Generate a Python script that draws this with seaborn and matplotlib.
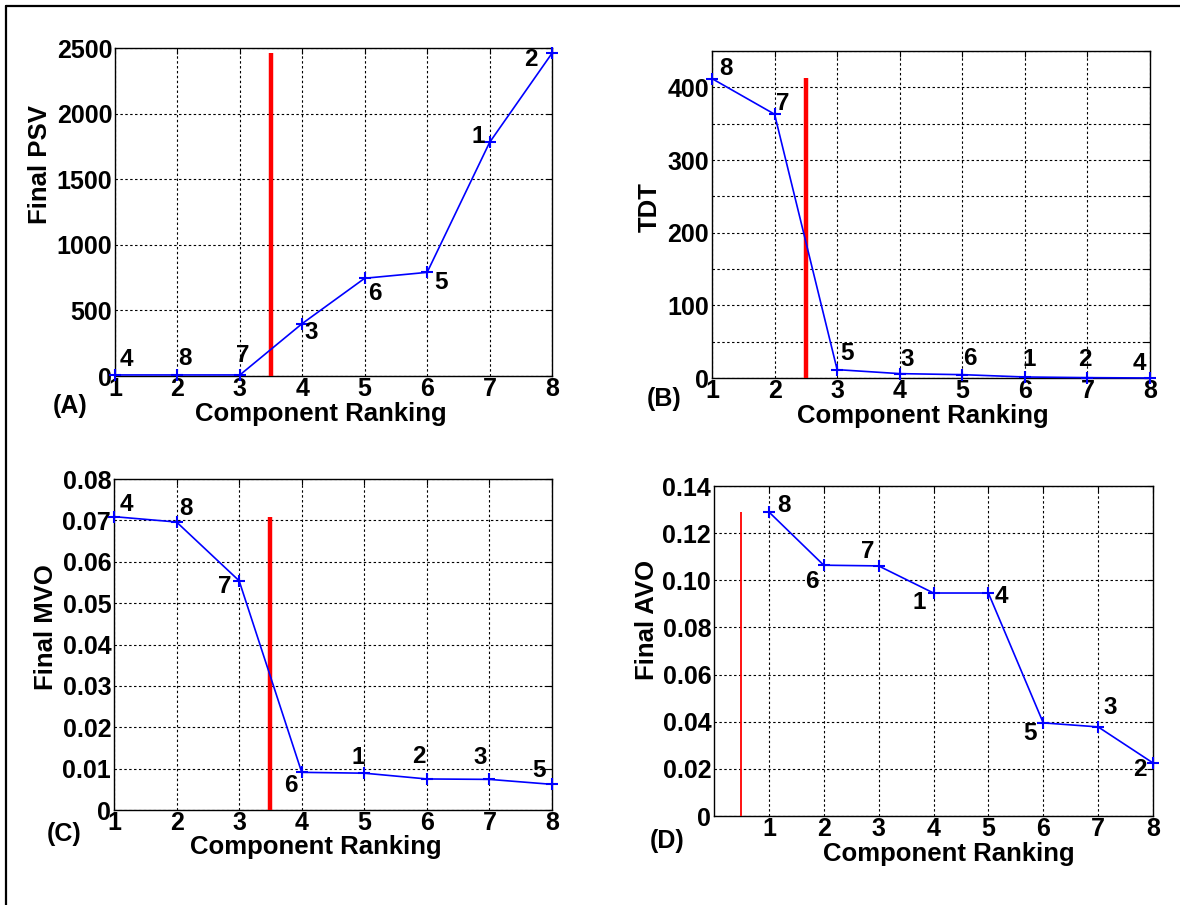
import matplotlib
matplotlib.use("Agg")
import matplotlib.pyplot as plt
from matplotlib.lines import Line2D
import seaborn as sns
import pandas as pd

# ---- data -------------------------------------------------------------
ranking = [1, 2, 3, 4, 5, 6, 7, 8]

psv_components = ["4", "8", "7", "3", "6", "5", "1", "2"]
psv_values = [8, 8, 8, 400, 745, 790, 1780, 2460]
psv_cut = 3.5
psv_cut_top = 2460

tdt_components = ["8", "7", "5", "3", "6", "1", "2", "4"]
tdt_values = [412, 363, 11.5, 6, 4.6, 1.4, 0.5, 0.0]
tdt_cut = 2.5
tdt_cut_top = 413

mvo_components = ["4", "8", "7", "6", "1", "2", "3", "5"]
mvo_values = [0.0709, 0.0696, 0.0554, 0.0091, 0.0089, 0.0075, 0.0074, 0.0062]
mvo_cut = 3.5
mvo_cut_top = 0.0709

avo_components = ["8", "6", "7", "1", "4", "5", "3", "2"]
avo_values = [0.129, 0.1064, 0.1061, 0.0946, 0.0946, 0.0395, 0.0378, 0.0225]
avo_cut = 0.5
avo_cut_top = 0.129

psv_yticks = [0, 500, 1000, 1500, 2000, 2500]
psv_yticklabels = ["0", "500", "1000", "1500", "2000", "2500"]
tdt_yticks = [0, 50, 100, 150, 200, 250, 300, 350, 400, 450]
tdt_yticklabels = ["0", "", "100", "", "200", "", "300", "", "400", ""]
mvo_yticks = [0, 0.01, 0.02, 0.03, 0.04, 0.05, 0.06, 0.07, 0.08]
mvo_yticklabels = ["0", "0.01", "0.02", "0.03", "0.04", "0.05", "0.06", "0.07", "0.08"]
avo_yticks = [0, 0.02, 0.04, 0.06, 0.08, 0.10, 0.12, 0.14]
avo_yticklabels = ["0", "0.02", "0.04", "0.06", "0.08", "0.10", "0.12", "0.14"]

# ---- style --------------------------------------------------------------
sns.set_style("white")
plt.rcParams["font.family"] = ["Liberation Sans", "DejaVu Sans"]
plt.rcParams["font.weight"] = "bold"
plt.rcParams["text.color"] = "black"
plt.rcParams["axes.labelcolor"] = "black"
plt.rcParams["xtick.color"] = "black"
plt.rcParams["ytick.color"] = "black"

W, H = 1180, 905
fig = plt.figure(figsize=(W / 100, H / 100), dpi=100)
fig.patch.set_facecolor("white")


def fx(px):
    return px / W


def fy(py):
    return 1 - py / H


def make_axes(left, top, right, bottom):
    return fig.add_axes([fx(left), fy(bottom), fx(right - left), (bottom - top) / H])


TICK_FS = 18
LABEL_FS = 18.5
NOTE_FS = 17.5

panels = [
    dict(box=(115, 48, 552, 376), comps=psv_components, vals=psv_values,
         cut=psv_cut, cut_top=psv_cut_top, cut_lw=3.2,
         xlim=(1, 8), ylim=(0, 2500), yticks=psv_yticks, yticklabels=psv_yticklabels,
         ylabel="Final PSV", ylabel_pos=(40, 165), xlabel_pos=(321, 414), tag="(A)", tag_pos=(70, 406),
         offsets=[(11, -15), (8, -16), (3, -19), (9, 9), (10, 15), (14, 10), (-11, -6), (-21, 6)]),
    dict(box=(712, 51, 1150, 378), comps=tdt_components, vals=tdt_values,
         cut=tdt_cut, cut_top=tdt_cut_top, cut_lw=3.2,
         xlim=(1, 8), ylim=(0, 450), yticks=tdt_yticks, yticklabels=tdt_yticklabels,
         ylabel="TDT", ylabel_pos=(650, 207), xlabel_pos=(923, 416), tag="(B)", tag_pos=(664, 399),
         offsets=[(14, -10), (8, -11), (10, -16), (8, -14), (8, -16), (4, -17), (-3, -18), (-11, -15)]),
    dict(box=(114, 479, 552, 810), comps=mvo_components, vals=mvo_values,
         cut=mvo_cut, cut_top=mvo_cut_top, cut_lw=3.2,
         xlim=(1, 8), ylim=(0, 0.08), yticks=mvo_yticks, yticklabels=mvo_yticklabels,
         ylabel="Final MVO", ylabel_pos=(46, 627), xlabel_pos=(316, 847), tag="(C)", tag_pos=(64, 834),
         offsets=[(12, -12), (9, -14), (-14, 6), (-11, 13), (-6, -16), (-8, -22), (-9, -22), (-13, -14)]),
    dict(box=(714, 486, 1153, 816), comps=avo_components, vals=avo_values,
         cut=avo_cut, cut_top=avo_cut_top, cut_lw=1.3,
         xlim=(0, 8), ylim=(0, 0.14), yticks=avo_yticks, yticklabels=avo_yticklabels,
         ylabel="Final AVO", ylabel_pos=(647, 620), xlabel_pos=(949, 854), tag="(D)", tag_pos=(667, 841),
         offsets=[(15, -6), (-12, 16), (-11, -14), (-14, 9), (13, 3), (-13, 11), (12, -19), (-13, 7)]),
]

for p in panels:
    ax = make_axes(*p["box"])
    df = pd.DataFrame({"rank": ranking, "value": p["vals"], "comp": p["comps"]})

    # threshold marker
    ax.plot([p["cut"], p["cut"]], [0, p["cut_top"]], color="#ff0000",
            linewidth=p["cut_lw"], solid_capstyle="butt", zorder=3)

    sns.lineplot(data=df, x="rank", y="value", ax=ax, color="#0000ff",
                 linewidth=1.2, marker="+", markersize=9, markeredgewidth=1.5,
                 markeredgecolor="#0000ff", zorder=4, clip_on=False)

    for (r, v, c), (dx, dy) in zip(zip(df["rank"], df["value"], df["comp"]), p["offsets"]):
        ax.annotate(c, xy=(r, v), xytext=(dx, -dy), textcoords="offset pixels",
                    ha="center", va="center", fontsize=NOTE_FS, fontweight="bold",
                    color="black", zorder=5, annotation_clip=False)

    ax.set_xlim(*p["xlim"])
    ax.set_ylim(*p["ylim"])
    ax.set_xticks(ranking)
    ax.set_xticklabels([str(r) for r in ranking])
    ax.set_yticks(p["yticks"])
    ax.set_yticklabels(p["yticklabels"])
    ax.set_xlabel("")
    ax.set_ylabel("")
    ax.grid(True, color="black", linestyle=(0, (2.2, 2.2)), linewidth=0.8)
    ax.set_axisbelow(True)
    ax.tick_params(direction="in", top=True, right=True, length=4, width=0.8,
                   labelsize=TICK_FS, pad=2, colors="black")
    ax.tick_params(axis="x", pad=1)
    for lab in ax.get_xticklabels() + ax.get_yticklabels():
        lab.set_fontweight("bold")
        lab.set_color("black")
    for s in ax.spines.values():
        s.set_visible(True)
        s.set_color("black")
        s.set_linewidth(1.0)

    fig.text(fx(p["xlabel_pos"][0]), fy(p["xlabel_pos"][1]), "Component Ranking",
             ha="center", va="center", fontsize=LABEL_FS, fontweight="bold", color="black")
    fig.text(fx(p["ylabel_pos"][0]), fy(p["ylabel_pos"][1]), p["ylabel"], rotation=90,
             ha="center", va="center", fontsize=LABEL_FS, fontweight="bold", color="black")
    fig.text(fx(p["tag_pos"][0]), fy(p["tag_pos"][1]), p["tag"],
             ha="center", va="center", fontsize=TICK_FS, fontweight="bold", color="black")

# frame lines along the top and left edges
fig.add_artist(Line2D([fx(6), 1.0], [fy(6), fy(6)], color="black", linewidth=1.6))
fig.add_artist(Line2D([fx(6), fx(6)], [fy(6), 0.0], color="black", linewidth=1.6))

fig.savefig("out.png", dpi=100, facecolor="white")
